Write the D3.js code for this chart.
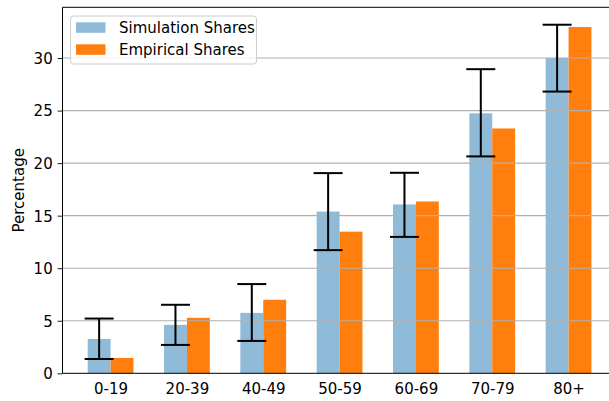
<!DOCTYPE html>
<html>
<head>
<meta charset="utf-8">
<script src="https://cdn.jsdelivr.net/npm/d3@7/dist/d3.min.js"></script>
<style>
  html, body { margin: 0; padding: 0; background: #fff; }
  svg { display: block; }
  text { font-family: "DejaVu Sans", sans-serif; fill: #000; }
</style>
</head>
<body>
<svg id="chart" width="609" height="401"></svg>
<script>
// Age groups and shares (percent)
const categories = ["0-19", "20-39", "40-49", "50-59", "60-69", "70-79", "80+"];
const simulationShares = [3.27, 4.61, 5.75, 15.39, 16.07, 24.74, 30.0];
const empiricalShares = [1.46, 5.28, 7.0, 13.48, 16.35, 23.3, 32.95];
const simulationLower = [1.36, 2.70, 3.08, 11.72, 12.98, 20.64, 26.81];
const simulationUpper = [5.21, 6.52, 8.49, 19.05, 19.08, 28.94, 33.17];
const yTicks = [0, 5, 10, 15, 20, 25, 30];
const seriesNames = ["Simulation Shares", "Empirical Shares"];

const colors = { sim: "#8fbbd9", emp: "#ff7f0e" };
const barW = 0.3;
const fontSize = "15px";

const svg = d3.select("#chart");
const plot = { left: 62.5, top: 7.3, bottom: 373.3 };

// x in index units, with 5% margins around the outermost bars
const xMin = -barW, xMax = categories.length - 1 + barW;
const xPad = (xMax - xMin) * 0.05;
const unit = 76.33;
const x = d3.scaleLinear()
  .domain([xMin - xPad, xMax + xPad])
  .range([plot.left, plot.left + (xMax - xMin + 2 * xPad) * unit]);

const yMax = d3.max(simulationUpper.concat(empiricalShares)) * 1.05;
const y = d3.scaleLinear().domain([0, yMax]).range([plot.bottom, plot.top]);

const bw = x(barW) - x(0);

// bars
const g = svg.append("g");
g.selectAll("rect.sim").data(simulationShares).join("rect")
  .attr("class", "sim")
  .attr("x", (d, i) => x(i - barW))
  .attr("width", bw)
  .attr("y", d => y(d))
  .attr("height", d => y(0) - y(d))
  .attr("fill", colors.sim);
g.selectAll("rect.emp").data(empiricalShares).join("rect")
  .attr("class", "emp")
  .attr("x", (d, i) => x(i))
  .attr("width", bw)
  .attr("y", d => y(d))
  .attr("height", d => y(0) - y(d))
  .attr("fill", colors.emp);

// y axis ticks and labels
const yAxis = d3.axisLeft(y).tickValues(yTicks).tickFormat(d3.format("d"))
  .tickSize(4.9).tickPadding(4.9);
const yg = svg.append("g").attr("transform", `translate(${plot.left},0)`).call(yAxis);
yg.select(".domain").remove();
yg.selectAll(".tick line").attr("stroke", "#000").attr("stroke-width", 0.9);
yg.selectAll(".tick text").style("font-size", fontSize).attr("dy", "0.36em");

// horizontal grid drawn over the bars
svg.append("g").selectAll("line").data(yTicks.filter(t => t > 0)).join("line")
  .attr("x1", plot.left).attr("x2", 609)
  .attr("y1", d => y(d)).attr("y2", d => y(d))
  .attr("stroke", "#b0b0b0").attr("stroke-width", 1.1);

// error bars on the simulation series
const cap = 14.5;
const eg = svg.append("g").attr("stroke", "#000").attr("stroke-width", 2);
categories.forEach((c, i) => {
  const cx = x(i - barW / 2);
  eg.append("line").attr("x1", cx).attr("x2", cx)
    .attr("y1", y(simulationLower[i])).attr("y2", y(simulationUpper[i]));
  eg.append("line").attr("x1", cx - cap).attr("x2", cx + cap)
    .attr("y1", y(simulationLower[i])).attr("y2", y(simulationLower[i]));
  eg.append("line").attr("x1", cx - cap).attr("x2", cx + cap)
    .attr("y1", y(simulationUpper[i])).attr("y2", y(simulationUpper[i]));
});

// x axis labels at group centres
const xAxis = d3.axisBottom(x).tickValues(d3.range(categories.length))
  .tickFormat(i => categories[i]).tickSize(0).tickPadding(9.8);
const xg = svg.append("g").attr("transform", `translate(0,${plot.bottom})`).call(xAxis);
xg.select(".domain").remove();
xg.selectAll(".tick text").style("font-size", fontSize).attr("dy", "0.71em");

// spines
svg.append("line").attr("x1", plot.left).attr("x2", 609)
  .attr("y1", plot.bottom).attr("y2", plot.bottom).attr("stroke", "#000").attr("stroke-width", 1);
svg.append("line").attr("x1", plot.left).attr("x2", 609)
  .attr("y1", plot.top).attr("y2", plot.top).attr("stroke", "#000").attr("stroke-width", 1);
svg.append("line").attr("x1", plot.left).attr("x2", plot.left)
  .attr("y1", plot.top).attr("y2", plot.bottom).attr("stroke", "#000").attr("stroke-width", 1);

// y label
svg.append("text")
  .attr("transform", `translate(24,${(plot.top + plot.bottom) / 2}) rotate(-90)`)
  .attr("text-anchor", "middle")
  .style("font-size", fontSize)
  .text("Percentage");

// legend
const lg = svg.append("g").attr("transform", "translate(70.5,16)");
lg.append("rect").attr("width", 186).attr("height", 48).attr("rx", 3)
  .attr("fill", "#fff").attr("fill-opacity", 0.8)
  .attr("stroke", "#cccccc").attr("stroke-width", 1);
[colors.sim, colors.emp].forEach((c, k) => {
  lg.append("rect").attr("x", 5.5).attr("y", 6.3 + k * 22).attr("width", 29.5).attr("height", 10.5)
    .attr("fill", c);
  lg.append("text").attr("x", 48.5).attr("y", 11.8 + k * 22).attr("dy", "0.36em")
    .style("font-size", fontSize).text(seriesNames[k]);
});
</script>
</body>
</html>
